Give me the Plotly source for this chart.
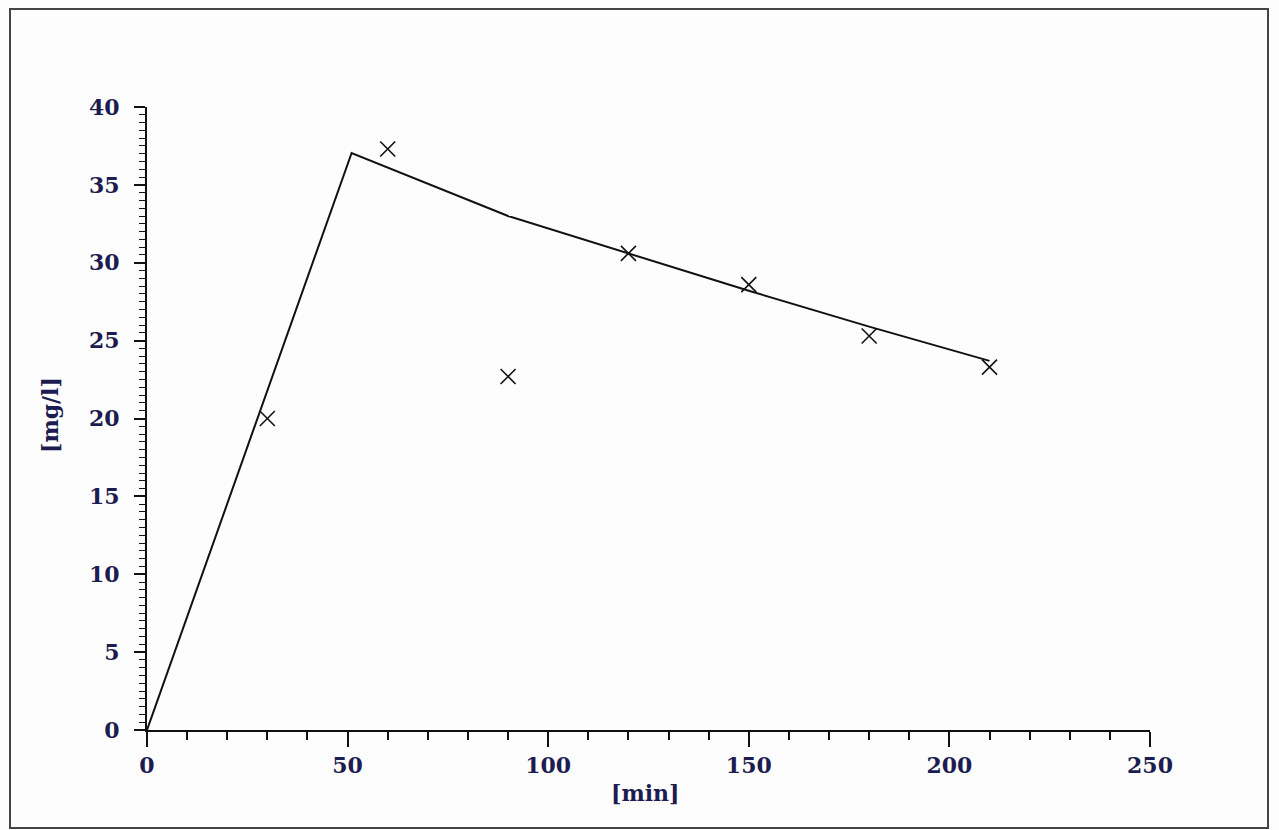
import plotly.graph_objects as go

# Measured concentrations over time
time_min = [30, 60, 90, 120, 150, 180, 210]
conc_mg_l = [20.0, 37.3, 22.7, 30.6, 28.6, 25.3, 23.3]

# Fitted curve: linear rise, then decay
fit_time = [0, 51, 90, 120, 150, 180, 210]
fit_conc = [0.0, 37.05, 33.0, 30.6, 28.2, 25.9, 23.7]

x_ticks = [0, 50, 100, 150, 200, 250]
y_ticks = [0, 5, 10, 15, 20, 25, 30, 35, 40]

ink = "#1c1c50"
font_family = "DejaVu Serif"
label_font = dict(family=font_family, size=22, color=ink, weight="bold")

fig = go.Figure()

fig.add_trace(go.Scatter(
    x=fit_time, y=fit_conc, mode="lines",
    line=dict(color="#111111", width=2),
    showlegend=False, hoverinfo="skip",
))

fig.add_trace(go.Scatter(
    x=time_min, y=conc_mg_l, mode="markers",
    marker=dict(symbol="x-thin", size=15, line=dict(color="#111111", width=1.6)),
    showlegend=False,
))

axis_common = dict(
    showgrid=False, zeroline=False, showline=True,
    linecolor="#111111", linewidth=2,
    ticks="outside", tickcolor="#111111", tickwidth=2,
    tickfont=label_font,
)

fig.update_xaxes(
    range=[0, 250], tickmode="array", tickvals=x_ticks,
    ticktext=[str(v) for v in x_ticks], ticklen=15,
    minor=dict(dtick=10, ticks="outside", ticklen=8, tickcolor="#111111", tickwidth=2),
    **axis_common,
)
fig.update_yaxes(
    range=[0, 40], tickmode="array", tickvals=y_ticks,
    ticktext=[str(v) for v in y_ticks], ticklen=11,
    ticklabelstandoff=10,
    minor=dict(dtick=0.5, ticks="outside", ticklen=6, tickcolor="#111111", tickwidth=1),
    **axis_common,
)

W, H = 1279, 830
L, R, T, B = 147, 129, 107, 100
pw, ph = W - L - R, H - T - B

def px_x(p):
    return (p - L) / pw

def px_y(p):
    return (H - B - p) / ph

fig.add_shape(
    type="rect", xref="paper", yref="paper",
    x0=px_x(10), x1=px_x(1268), y0=px_y(828), y1=px_y(9),
    line=dict(color="#444444", width=2), layer="below",
)

fig.add_annotation(
    text="[min]", xref="paper", yref="paper",
    x=px_x(645), y=px_y(793), xanchor="center", yanchor="middle",
    showarrow=False, font=label_font,
)
fig.add_annotation(
    text="[mg/l]", xref="paper", yref="paper",
    x=px_x(50), y=px_y(415), xanchor="center", yanchor="middle",
    showarrow=False, textangle=-90, font=label_font,
)

fig.update_layout(
    width=W, height=H,
    margin=dict(l=L, r=R, t=T, b=B),
    paper_bgcolor="#fdfdfe", plot_bgcolor="#fdfdfe",
)

fig.write_html("out.html")
